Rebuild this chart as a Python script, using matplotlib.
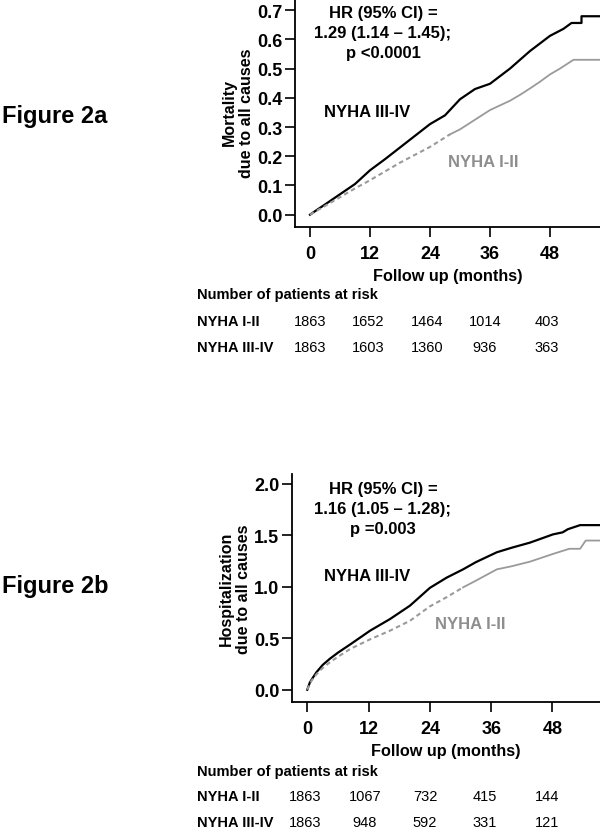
import numpy as np
import matplotlib.pyplot as plt

plt.rcParams['font.family'] = ['Liberation Sans', 'DejaVu Sans']

W, H = 600, 829
GREY = '#9a9a9a'

# Figure 2a - mortality (cumulative)
mort_hi_t = [0, 1, 3, 6, 9, 12, 15, 18, 21, 24, 27, 30, 33, 36, 40, 44, 48, 50.7, 52.3, 54.3, 54.3, 58]
mort_hi_y = [0, 0.012, 0.035, 0.07, 0.105, 0.152, 0.19, 0.23, 0.27, 0.31, 0.34, 0.395, 0.43, 0.448,
             0.50, 0.56, 0.612, 0.636, 0.656, 0.656, 0.679, 0.679]
mort_lo_t = [0, 1, 3, 6, 9, 12, 15, 18, 21, 24, 28, 30, 33, 36, 40, 42, 44, 46, 48, 50, 52.7, 58]
mort_lo_y = [0, 0.01, 0.03, 0.06, 0.09, 0.118, 0.148, 0.178, 0.205, 0.232, 0.275, 0.292, 0.325, 0.358,
             0.39, 0.41, 0.432, 0.455, 0.48, 0.50, 0.53, 0.53]

# Figure 2b - hospitalization (cumulative)
hosp_hi_t = [0, 0.5, 1, 1.8, 3, 4.4, 6, 8.4, 12.3, 16.2, 20.1, 24, 27.3, 30.5, 33, 37.1, 40, 43.6,
             48.1, 50, 51, 53.4, 57.3]
hosp_hi_y = [0, 0.07, 0.11, 0.17, 0.24, 0.30, 0.36, 0.44, 0.574, 0.687, 0.817, 0.99, 1.09, 1.17,
             1.24, 1.336, 1.38, 1.43, 1.51, 1.53, 1.56, 1.60, 1.60]
hosp_lo_t = [0, 0.5, 1, 1.8, 3, 4.4, 6, 8.4, 12.3, 16.2, 20.1, 24, 27.3, 30.5, 33, 37.1, 40, 43.6,
             48.1, 51.3, 53.4, 54.5, 57.3]
hosp_lo_y = [0, 0.06, 0.10, 0.15, 0.21, 0.266, 0.32, 0.396, 0.49, 0.574, 0.67, 0.81, 0.90, 0.995,
             1.06, 1.17, 1.20, 1.245, 1.32, 1.37, 1.37, 1.45, 1.45]

x_ticks = [0, 12, 24, 36, 48]
groups = ['NYHA I-II', 'NYHA III-IV']
risk_a = [[1863, 1652, 1464, 1014, 403], [1863, 1603, 1360, 936, 363]]
risk_b = [[1863, 1067, 732, 415, 144], [1863, 948, 592, 331, 121]]
hr_a = 'HR (95% CI) =\n1.29 (1.14 \u2013 1.45);\np <0.0001'
hr_b = 'HR (95% CI) =\n1.16 (1.05 \u2013 1.28);\np =0.003'


def px(x, y):
    return x / W, 1 - y / H


def add_text(x, y, s, **kw):
    fx, fy = px(x, y)
    kw.setdefault('fontweight', 'bold')
    fig.text(fx, fy, s, **kw)


def panel(rect, xlim, ylim, yticks, hi_t, hi_y, lo_t, lo_y, dash_until):
    ax = fig.add_axes(rect)
    ax.plot(hi_t, hi_y, color='black', lw=1.6)
    lo_t = np.array(lo_t)
    lo_y = np.array(lo_y)
    early = lo_t <= dash_until
    # early part of the grey curve looks dotted in the original
    ax.plot(lo_t[early], lo_y[early], color=GREY, lw=1.5, ls=(0, (2.2, 1.6)))
    k = early.sum() - 1
    ax.plot(lo_t[k:], lo_y[k:], color=GREY, lw=1.3)
    ax.set_xlim(*xlim)
    ax.set_ylim(*ylim)
    ax.set_xticks(x_ticks)
    ax.set_yticks(yticks)
    ax.set_yticklabels(['%.1f' % v for v in yticks])
    for s in ['top', 'right']:
        ax.spines[s].set_visible(False)
    for s in ['left', 'bottom']:
        ax.spines[s].set_linewidth(1.3)
    ax.tick_params(direction='out', length=7, width=1.2, labelsize=13)
    ax.tick_params(axis='x', pad=6)
    ax.tick_params(axis='y', pad=2)
    for lab in ax.get_xticklabels() + ax.get_yticklabels():
        lab.set_fontweight('bold')
    return ax


fig = plt.figure(figsize=(W / 100, H / 100), dpi=100)

# top panel: left 295px, bottom 227.7px, top 0
panel([295 / W, 1 - 227.7 / H, 305 / W, 227.7 / H], (-3, 58), (-0.041, 0.738),
      [0.0, 0.1, 0.2, 0.3, 0.4, 0.5, 0.6, 0.7],
      mort_hi_t, mort_hi_y, mort_lo_t, mort_lo_y, 28)
# bottom panel: left 291.7px, bottom 703.3px, top 475px
panel([291.7 / W, 1 - 703.3 / H, 308.3 / W, 228.3 / H], (-3.05, 57.3), (-0.1225, 2.097),
      [0.0, 0.5, 1.0, 1.5, 2.0],
      hosp_hi_t, hosp_hi_y, hosp_lo_t, hosp_lo_y, 30.5)

# text layout (pixel positions measured on the original)
layout = [
    dict(fig=(2, 117), ylab=(238, 113), hr=(383, 6), hi=(366.7, 112.7), lo=(483, 162.7),
         xlab=(447.5, 276.7), tab=295, step=26.7, cols=[310, 368, 427, 485, 547],
         figlab='Figure 2a', ylabel='Mortality\ndue to all causes', hrtxt=hr_a, risk=risk_a),
    dict(fig=(2, 587), ylab=(235, 589), hr=(383, 482), hi=(366.7, 576.7), lo=(470.7, 625),
         xlab=(446, 751.7), tab=771.7, step=25.5, cols=[305, 365, 425, 485, 547],
         figlab='Figure 2b', ylabel='Hospitalization\ndue to all causes', hrtxt=hr_b, risk=risk_b),
]

for L in layout:
    add_text(*L['fig'], L['figlab'], fontsize=17, va='center')
    add_text(*L['ylab'], L['ylabel'], fontsize=11.5, rotation=90,
             ha='center', va='center', multialignment='center', linespacing=1.15)
    add_text(*L['hr'], L['hrtxt'], fontsize=12, ha='center', va='top',
             multialignment='center', linespacing=1.4)
    add_text(*L['hi'], 'NYHA III-IV', fontsize=12, ha='center', va='center')
    add_text(*L['lo'], 'NYHA I-II', fontsize=12, ha='center', va='center', color='#8e8e8e')
    add_text(*L['xlab'], 'Follow up (months)', fontsize=11.7, ha='center', va='center')
    add_text(197, L['tab'], 'Number of patients at risk', fontsize=10.5, va='center')
    for r, (g, row) in enumerate(zip(groups, L['risk'])):
        yy = L['tab'] + L['step'] * (r + 1)
        add_text(197, yy, g, fontsize=10.5, va='center')
        for cx, n in zip(L['cols'], row):
            add_text(cx, yy, str(n), fontsize=10.5, ha='center', va='center', fontweight='normal')

fig.savefig('out.png', dpi=100)
